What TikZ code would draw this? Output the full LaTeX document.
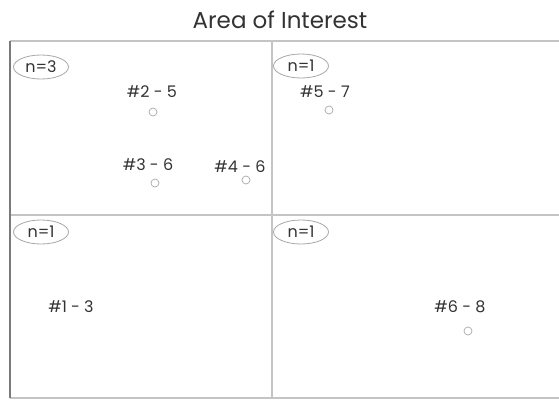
\documentclass[tikz,border=0pt]{standalone}
\usepackage{fontspec}
\setmainfont{Poppins}
\usetikzlibrary{shapes.geometric}
\definecolor{txt}{HTML}{333333}
\definecolor{frame}{HTML}{C4C4C4}
\definecolor{leftframe}{HTML}{7A7A7A}
\definecolor{mark}{HTML}{A8A8A8}
\tikzset{
  lbl/.style={font=\fontsize{16}{16}\selectfont, text=txt, inner sep=0pt},
  countlbl/.style={ellipse, draw=mark, line width=0.8pt, font=\fontsize{16}{16}\selectfont, text=txt, minimum width=55pt, minimum height=24pt, inner sep=0pt},
  dot/.style={circle, draw=mark, line width=0.7pt, minimum size=8pt, inner sep=0pt},
  title/.style={font=\fontsize{23}{23}\selectfont, text=txt, inner sep=0pt}
}
\begin{document}
\begin{tikzpicture}[x=1pt,y=-1pt]
\useasboundingbox (0,0) rectangle (559,400);
\fill[white] (0,0) rectangle (559,400);
% frame
\draw[frame, line width=1.2pt] (10,41) -- (562,41);
\draw[frame, line width=1.2pt] (10,398) -- (562,398);
\draw[frame, line width=1.2pt] (272,41) -- (272,398);
\draw[frame, line width=1.2pt] (10,215) -- (562,215);
\draw[leftframe, line width=1.4pt] (10,41) -- (10,398);
% title
\node[title] (t) at (280,20) {Area of Interest};
% counts
\node[countlbl] (c1) at (41,67) {n=3};
\node[countlbl] (c2) at (301,66) {n=1};
\node[countlbl] (c3) at (41,232) {n=1};
\node[countlbl] (c4) at (301,232) {n=1};
% labels and markers
\node[lbl] (l2) at (152,92) {\#2 - 5};
\node[dot] (d2) at (153,112) {};
\node[lbl] (l3) at (148,165) {\#3 - 6};
\node[dot] (d3) at (155,183) {};
\node[lbl] (l4) at (240,167) {\#4 - 6};
\node[dot] (d4) at (246,180) {};
\node[lbl] (l5) at (325,92) {\#5 - 7};
\node[dot] (d5) at (329,110) {};
\node[lbl] (l1) at (71,307) {\#1 - 3};
\node[lbl] (l6) at (460,307) {\#6 - 8};
\node[dot] (d6) at (468,331) {};
\end{tikzpicture}
\end{document}
